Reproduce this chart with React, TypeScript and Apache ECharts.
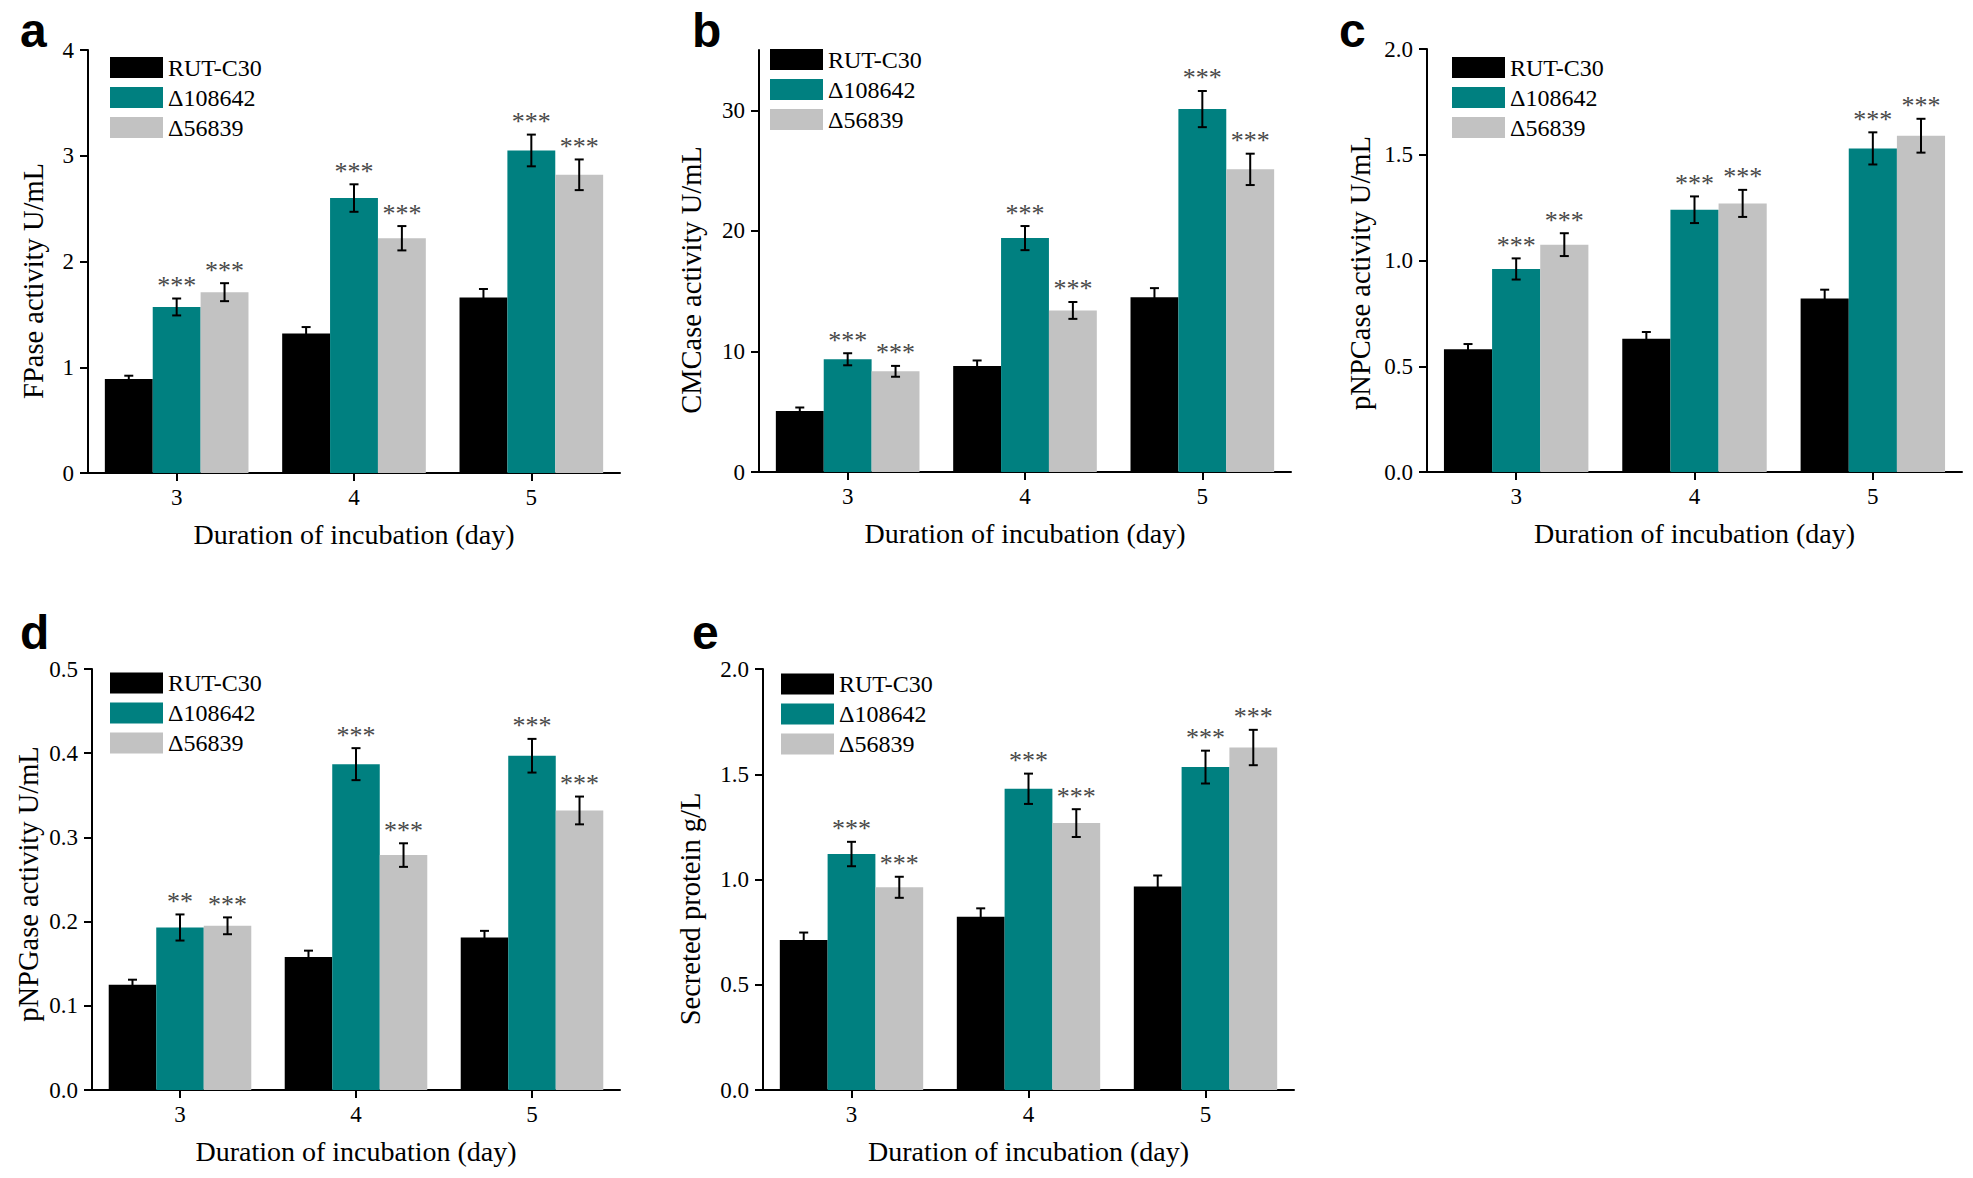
import React, { useEffect, useRef } from 'react';
import * as echarts from 'echarts';

// ---------- data ----------
const days = ['3', '4', '5'];
const strainNames = ['RUT-C30', 'Δ108642', 'Δ56839'];

// a: FPase activity U/mL
const fpaseRUT = [0.89, 1.32, 1.66];
const fpaseD108642 = [1.57, 2.6, 3.05];
const fpaseD56839 = [1.71, 2.22, 2.82];
const fpaseErrRUT = [0.03, 0.06, 0.08];
const fpaseErrD108642 = [0.08, 0.13, 0.15];
const fpaseErrD56839 = [0.085, 0.115, 0.145];
const fpaseStarsD108642 = ['***', '***', '***'];
const fpaseStarsD56839 = ['***', '***', '***'];

// b: CMCase activity U/mL
const cmcaseRUT = [5.05, 8.8, 14.5];
const cmcaseD108642 = [9.35, 19.4, 30.1];
const cmcaseD56839 = [8.35, 13.4, 25.1];
const cmcaseErrRUT = [0.3, 0.45, 0.75];
const cmcaseErrD108642 = [0.5, 1.0, 1.5];
const cmcaseErrD56839 = [0.45, 0.7, 1.3];
const cmcaseStarsD108642 = ['***', '***', '***'];
const cmcaseStarsD56839 = ['***', '***', '***'];

// c: pNPCase activity U/mL
const pnpcaseRUT = [0.58, 0.63, 0.82];
const pnpcaseD108642 = [0.96, 1.24, 1.53];
const pnpcaseD56839 = [1.075, 1.27, 1.59];
const pnpcaseErrRUT = [0.025, 0.032, 0.042];
const pnpcaseErrD108642 = [0.05, 0.063, 0.076];
const pnpcaseErrD56839 = [0.054, 0.064, 0.08];
const pnpcaseStarsD108642 = ['***', '***', '***'];
const pnpcaseStarsD56839 = ['***', '***', '***'];

// d: pNPGase activity U/mL
const pnpgaseRUT = [0.125, 0.158, 0.181];
const pnpgaseD108642 = [0.193, 0.387, 0.397];
const pnpgaseD56839 = [0.195, 0.279, 0.332];
const pnpgaseErrRUT = [0.006, 0.0075, 0.008];
const pnpgaseErrD108642 = [0.0155, 0.019, 0.02];
const pnpgaseErrD56839 = [0.01, 0.014, 0.0165];
const pnpgaseStarsD108642 = ['**', '***', '***'];
const pnpgaseStarsD56839 = ['***', '***', '***'];

// e: Secreted protein g/L
const proteinRUT = [0.713, 0.823, 0.967];
const proteinD108642 = [1.121, 1.431, 1.534];
const proteinD56839 = [0.963, 1.268, 1.627];
const proteinErrRUT = [0.035, 0.04, 0.052];
const proteinErrD108642 = [0.058, 0.072, 0.078];
const proteinErrD56839 = [0.05, 0.066, 0.084];
const proteinStarsD108642 = ['***', '***', '***'];
const proteinStarsD56839 = ['***', '***', '***'];

// y axis ticks
const fpaseTicks = [0, 1, 2, 3, 4];
const cmcaseTicks = [0, 10, 20, 30];
const pnpcaseTicks = [0, 0.5, 1.0, 1.5, 2.0];
const pnpgaseTicks = [0, 0.1, 0.2, 0.3, 0.4, 0.5];
const proteinTicks = [0, 0.5, 1.0, 1.5, 2.0];

const xTitle = 'Duration of incubation (day)';

// ---------- panels ----------
const panels = [
  {
    letter: 'a', yName: 'FPase activity U/mL', max: 4, ticks: fpaseTicks, digits: 0,
    values: [fpaseRUT, fpaseD108642, fpaseD56839],
    errs: [fpaseErrRUT, fpaseErrD108642, fpaseErrD56839],
    stars: [null, fpaseStarsD108642, fpaseStarsD56839],
  },
  {
    letter: 'b', yName: 'CMCase activity U/mL', max: 35, ticks: cmcaseTicks, digits: 0,
    values: [cmcaseRUT, cmcaseD108642, cmcaseD56839],
    errs: [cmcaseErrRUT, cmcaseErrD108642, cmcaseErrD56839],
    stars: [null, cmcaseStarsD108642, cmcaseStarsD56839],
  },
  {
    letter: 'c', yName: 'pNPCase activity U/mL', max: 2, ticks: pnpcaseTicks, digits: 1,
    values: [pnpcaseRUT, pnpcaseD108642, pnpcaseD56839],
    errs: [pnpcaseErrRUT, pnpcaseErrD108642, pnpcaseErrD56839],
    stars: [null, pnpcaseStarsD108642, pnpcaseStarsD56839],
  },
  {
    letter: 'd', yName: 'pNPGase activity U/mL', max: 0.5, ticks: pnpgaseTicks, digits: 1,
    values: [pnpgaseRUT, pnpgaseD108642, pnpgaseD56839],
    errs: [pnpgaseErrRUT, pnpgaseErrD108642, pnpgaseErrD56839],
    stars: [null, pnpgaseStarsD108642, pnpgaseStarsD56839],
  },
  {
    letter: 'e', yName: 'Secreted protein g/L', max: 2, ticks: proteinTicks, digits: 1,
    values: [proteinRUT, proteinD108642, proteinD56839],
    errs: [proteinErrRUT, proteinErrD108642, proteinErrD56839],
    stars: [null, proteinStarsD108642, proteinStarsD56839],
  },
];

// ---------- layout (pixels) ----------
const layout = [
  { grid: [88, 50, 532, 423], legend: [110, 55.5], letter: [20, 6.5], yTitle: [33, 281] },
  { grid: [759, 50, 532, 422], legend: [770, 47.5], letter: [692, 6.5], yTitle: [691, 280] },
  { grid: [1427, 49, 535, 423], legend: [1452, 55.5], letter: [1339, 6.5], yTitle: [1360, 273] },
  { grid: [92, 669, 528, 421], legend: [110, 671], letter: [20, 608], yTitle: [28, 884] },
  { grid: [763, 669, 531, 421], legend: [781, 672], letter: [692, 608], yTitle: [690, 909] },
];

const barColors = ['#000000', '#008080', '#c2c2c2'];
const SERIF = '"Liberation Serif", "Times New Roman", serif';
const CAT_GAP = 0.19;

function buildOption() {
  const grids: any[] = [];
  const xAxes: any[] = [];
  const yAxes: any[] = [];
  const legends: any[] = [];
  const titles: any[] = [];
  const graphics: any[] = [];
  const series: any[] = [];

  panels.forEach((p, pi) => {
    const L = layout[pi];
    grids.push({ left: L.grid[0], top: L.grid[1], width: L.grid[2], height: L.grid[3], containLabel: false });
    xAxes.push({
      type: 'category', gridIndex: pi, data: days,
      name: xTitle, nameLocation: 'middle', nameGap: 47,
      nameTextStyle: { fontFamily: SERIF, fontSize: 28, color: '#000' },
      axisLine: { show: true, lineStyle: { color: '#000', width: 2 } },
      axisTick: { show: true, alignWithLabel: true, length: 8, lineStyle: { color: '#000', width: 2 } },
      axisLabel: { fontFamily: SERIF, fontSize: 23, color: '#000', margin: 13 },
      splitLine: { show: false },
    });
    yAxes.push({
      type: 'value', gridIndex: pi, min: 0, max: p.max,
      axisLine: { show: true, lineStyle: { color: '#000', width: 2 } },
      axisTick: { show: true, length: 8, lineStyle: { color: '#000', width: 2 }, customValues: p.ticks },
      axisLabel: {
        fontFamily: SERIF, fontSize: 23, color: '#000', margin: 14,
        customValues: p.ticks,
        formatter: (v: number) => v.toFixed(p.digits),
      },
      splitLine: { show: false },
    });
    legends.push({
      orient: 'vertical', left: L.legend[0], top: L.legend[1], padding: 0,
      itemWidth: 53, itemHeight: 21, itemGap: 6, icon: 'rect', selectedMode: false,
      data: strainNames,
      textStyle: { fontFamily: SERIF, fontSize: 24, lineHeight: 24, color: '#000' },
    });
    titles.push({
      text: p.letter, left: L.letter[0], top: L.letter[1], padding: 0,
      textStyle: { fontFamily: '"Liberation Sans", Arial, sans-serif', fontWeight: 'bold', fontSize: 48, color: '#000' },
    });
    graphics.push({
      type: 'text', x: L.yTitle[0], y: L.yTitle[1], rotation: Math.PI / 2, silent: true,
      style: {
        text: p.yName, fill: '#000', font: '28.5px "Liberation Serif"',
        align: 'center', verticalAlign: 'middle',
      },
    });

    strainNames.forEach((name, k) => {
      series.push({
        type: 'bar', name, xAxisIndex: pi, yAxisIndex: pi,
        data: p.values[k],
        barGap: '0%', barCategoryGap: (CAT_GAP * 100) + '%',
        itemStyle: { color: barColors[k] },
        emphasis: { disabled: true },
      });
    });

    const errData: number[][] = [];
    const starLookup: (string | null)[] = [];
    days.forEach((_, ci) => {
      strainNames.forEach((__, k) => {
        errData.push([ci, k, p.values[k][ci], p.errs[k][ci]]);
        starLookup.push(p.stars[k] ? (p.stars[k] as string[])[ci] : null);
      });
    });

    series.push({
      type: 'custom', xAxisIndex: pi, yAxisIndex: pi, clip: false, z: 5,
      encode: { x: 0, y: 2 },
      data: errData,
      renderItem: (params: any, api: any) => {
        const cat = api.value(0);
        const k = api.value(1);
        const v = api.value(2);
        const e = api.value(3);
        const band = api.size([1, 0])[0];
        const bw = (band * (1 - CAT_GAP)) / 3;
        const x = api.coord([cat, v])[0] + (k - 1) * bw;
        const yT = api.coord([cat, v + e])[1];
        const yB = api.coord([cat, v - e])[1];
        const st = { stroke: '#000', lineWidth: 2 };
        const children: any[] = [
          { type: 'line', shape: { x1: x, y1: yT, x2: x, y2: yB }, style: st },
          { type: 'line', shape: { x1: x - 4.5, y1: yT, x2: x + 4.5, y2: yT }, style: st },
          { type: 'line', shape: { x1: x - 4.5, y1: yB, x2: x + 4.5, y2: yB }, style: st },
        ];
        const star = starLookup[params.dataIndex];
        if (star) {
          children.push({
            type: 'text', x, y: yT,
            style: { text: star, fill: '#484848', font: '26px "Liberation Serif"', align: 'center', verticalAlign: 'bottom' },
          });
        }
        return { type: 'group', children };
      },
    });
  });

  return {
    animation: false,
    backgroundColor: '#ffffff',
    title: titles,
    grid: grids,
    xAxis: xAxes,
    yAxis: yAxes,
    legend: legends,
    graphic: graphics,
    series,
  };
}

export default function App() {
  const ref = useRef<HTMLDivElement>(null);
  useEffect(() => {
    if (!ref.current) return;
    const chart = echarts.init(ref.current, null, { renderer: 'svg' });
    chart.setOption(buildOption() as any);
    return () => chart.dispose();
  }, []);
  return (
    <div
      ref={ref}
      style={{ position: 'fixed', left: 0, top: 0, width: 1973, height: 1178, background: '#fff' }}
    />
  );
}
